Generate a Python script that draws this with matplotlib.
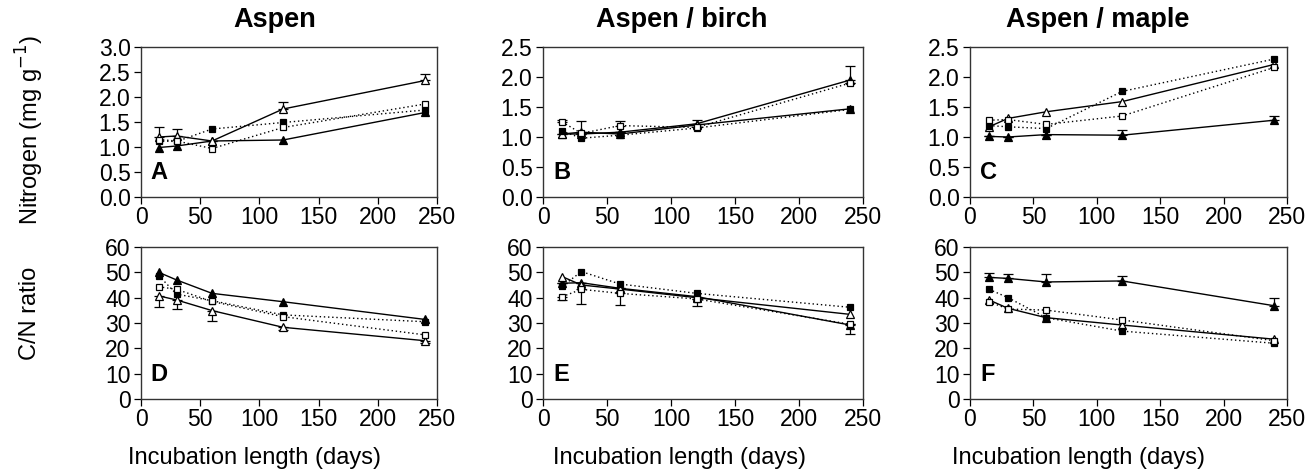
"""Nitrogen and C/N ratio over incubation time, three litter types."""

import matplotlib as mpl
import matplotlib.pyplot as plt
import numpy as np

mpl.use("Agg")
plt.rcParams["font.family"] = ["Liberation Sans", "DejaVu Sans"]

days = [15, 30, 60, 120, 240]
titles = ["Aspen", "Aspen / birch", "Aspen / maple"]
letters = ["A", "B", "C", "D", "E", "F"]

# Nitrogen (mg g-1): filled triangle, open triangle, filled square, open square
A_ftri = [0.99, 1.02, 1.12, 1.14, 1.69]
A_otri = [1.20, 1.22, 1.12, 1.76, 2.33]
A_fsq = [1.12, 1.11, 1.36, 1.49, 1.74]
A_osq = [1.15, 1.12, 0.97, 1.39, 1.86]

B_ftri = [1.05, 1.05, 1.08, 1.22, 1.95]
B_otri = [1.05, 1.08, 1.05, 1.20, 1.47]
B_fsq = [1.10, 0.98, 1.03, 1.15, 1.46]
B_osq = [1.25, 1.06, 1.19, 1.16, 1.90]

C_ftri = [1.01, 1.00, 1.04, 1.03, 1.28]
C_otri = [1.17, 1.31, 1.42, 1.59, 2.21]
C_fsq = [1.19, 1.17, 1.14, 1.76, 2.30]
C_osq = [1.28, 1.29, 1.21, 1.35, 2.16]

# C/N ratio
D_ftri = [50.0, 47.0, 41.7, 38.4, 31.4]
D_otri = [40.7, 39.1, 34.9, 28.3, 23.0]
D_fsq = [48.7, 41.4, 38.8, 33.2, 30.5]
D_osq = [44.3, 43.3, 38.5, 32.5, 25.3]

E_ftri = [45.7, 45.9, 43.7, 40.4, 29.2]
E_otri = [48.3, 45.0, 43.4, 40.0, 33.4]
E_fsq = [44.5, 50.3, 45.4, 41.7, 36.2]
E_osq = [40.4, 43.3, 41.7, 39.5, 29.5]

F_ftri = [48.0, 47.6, 46.2, 46.6, 36.8]
F_otri = [39.1, 35.8, 32.1, 29.2, 23.6]
F_fsq = [43.3, 40.0, 32.1, 26.8, 22.0]
F_osq = [38.4, 35.5, 35.1, 31.2, 23.0]

# one-sided error bars: positive = drawn upward, negative = drawn downward
A_otri_err = [0.20, 0.15, 0, 0.14, 0.13]
B_ftri_err = [0, 0, 0, 0.06, 0.23]
B_osq_err = [0.04, 0.20, 0.08, 0, 0]
C_ftri_err = [0, 0, 0, 0.08, 0.07]
D_otri_err = [-4.5, -3.7, -4.1, -1.2, -0.8]
E_ftri_err = [0, 0, 0, -3.5, -3.7]
E_osq_err = [-1.5, -5.8, -4.6, 0, 0]
F_ftri_err = [1.6, 1.6, 3.0, 2.0, 3.2]

nitrogen = [
    (A_ftri, A_otri, A_fsq, A_osq),
    (B_ftri, B_otri, B_fsq, B_osq),
    (C_ftri, C_otri, C_fsq, C_osq),
]
cn_ratio = [
    (D_ftri, D_otri, D_fsq, D_osq),
    (E_ftri, E_otri, E_fsq, E_osq),
    (F_ftri, F_otri, F_fsq, F_osq),
]
# (panel, series index) -> error list
errors = {
    (0, 1): A_otri_err,
    (1, 0): B_ftri_err,
    (1, 3): B_osq_err,
    (2, 0): C_ftri_err,
    (3, 1): D_otri_err,
    (4, 0): E_ftri_err,
    (4, 3): E_osq_err,
    (5, 0): F_ftri_err,
}

styles = [
    dict(marker="^", ls="-", mfc="black", ms=5.5),
    dict(marker="^", ls="-", mfc="white", ms=5.5),
    dict(marker="s", ls=(0, (1, 2)), mfc="black", ms=4.5),
    dict(marker="s", ls=(0, (1, 2)), mfc="white", ms=4.5),
]

W, H = 1308, 473
fig = plt.figure(figsize=(W / 100, H / 100), dpi=100)

# panel boxes in pixels
col_left = [141, 543, 970]
col_width = [296, 320, 317]
row_top = [47, 247]
row_height = [150, 152]
# title / x-label centres in pixels (they sit left of the axes centre)
title_x = [275, 682, 1098]
xlabel_x = [254, 680, 1079]

top_ylims = [(0, 3.0), (0, 2.5), (0, 2.5)]
top_yticks = [np.arange(0, 3.01, 0.5), np.arange(0, 2.51, 0.5), np.arange(0, 2.51, 0.5)]

axes = []
for r in range(2):
    for c in range(3):
        x0 = col_left[c] / W
        y0 = 1 - (row_top[r] + row_height[r]) / H
        ax = fig.add_axes([x0, y0, col_width[c] / W, row_height[r] / H])
        axes.append(ax)

for idx, ax in enumerate(axes):
    r, c = divmod(idx, 3)
    series = nitrogen[c] if r == 0 else cn_ratio[c]
    for s, (vals, st) in enumerate(zip(series, styles)):
        err = errors.get((idx, s))
        if err is not None:
            err = np.array(err, dtype=float)
            up = np.clip(err, 0, None)
            down = np.clip(-err, 0, None)
            ax.errorbar(days, vals, yerr=[down, up], fmt="none", ecolor="black",
                        elinewidth=0.9, capsize=3.5, capthick=0.9, zorder=2)
        ax.plot(days, vals, color="black", lw=1.0, ls=st["ls"], marker=st["marker"],
                mfc=st["mfc"], mec="black", mew=0.9, ms=st["ms"], zorder=3)

    ax.set_xlim(0, 250)
    ax.set_xticks(range(0, 251, 50))
    if r == 0:
        ax.set_ylim(*top_ylims[c])
        ax.set_yticks(top_yticks[c])
        ax.set_yticklabels([f"{v:.1f}" for v in top_yticks[c]])
        fig.text(title_x[c] / W, 1 - 20 / H, titles[c], fontsize=19.5,
                 fontweight="bold", ha="center", va="center")
    else:
        ax.set_ylim(0, 60)
        ax.set_yticks(range(0, 61, 10))
        fig.text(xlabel_x[c] / W, 1 - 458 / H, "Incubation length (days)",
                 fontsize=17, ha="center", va="center")
    ax.tick_params(axis="x", direction="out", length=5, width=0.9, pad=1.5,
                   labelsize=16.5, top=False)
    ax.tick_params(axis="y", direction="out", length=5, width=0.9, pad=2.5,
                   labelsize=16.5, right=False)
    for sp in ax.spines.values():
        sp.set_linewidth(1.0)
        sp.set_color("#333333")
    ax.text(0.032, 0.085, letters[idx], transform=ax.transAxes, fontsize=17,
            fontweight="bold", ha="left", va="bottom")

fig.text(30 / W, 1 - 130 / H, "Nitrogen (mg g$^{-1}$)", rotation=90,
         ha="center", va="center", fontsize=17)
fig.text(30 / W, 1 - 313 / H, "C/N ratio", rotation=90,
         ha="center", va="center", fontsize=17)

fig.savefig("out.png", dpi=100)
